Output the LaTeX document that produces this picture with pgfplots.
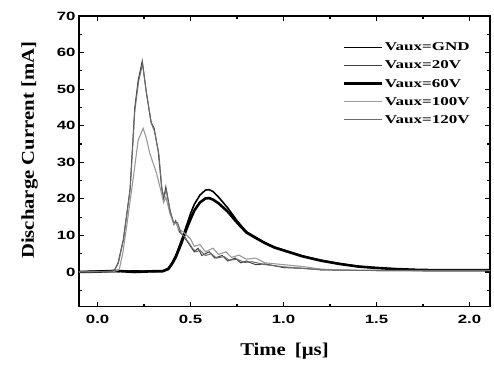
\documentclass[border=0pt]{standalone}
\usepackage{fontspec}
\setmainfont{Liberation Serif}
\newfontfamily\tickfont[FakeStretch=1.4]{Liberation Sans}
\newfontfamily\labfont[FakeStretch=1.15]{Liberation Serif}
\newfontfamily\legfont[FakeStretch=1.42]{Liberation Serif}
\usepackage{pgfplots}
\pgfplotsset{compat=1.18}
\definecolor{cdark}{gray}{0.25}
\definecolor{cmid}{gray}{0.42}
\definecolor{clight}{gray}{0.6}
\begin{document}
\begin{tikzpicture}
\path[use as bounding box] (-79pt,-58.3pt) rectangle (415pt,306.7pt);
\begin{axis}[
  scale only axis, width=411pt, height=290.7pt,
  xmin=-0.1, xmax=2.11, ymin=-9.5, ymax=70,
  xtick={0,0.5,1,1.5,2}, minor xtick={-0.25,0.25,0.75,1.25,1.75},
  ytick={0,10,20,30,40,50,60,70}, minor ytick={-5,5,15,25,35,45,55,65},
  tick align=inside, major tick length=5pt, minor tick length=3pt,
  every tick/.style={black, line width=1.2pt},
  axis line style={line width=1.5pt},
  /pgf/number format/assume math mode=true,
  xticklabel style={yshift=-5pt, /pgf/number format/.cd, fixed, fixed zerofill, precision=1},
  ticklabel style={font=\tickfont\bfseries\fontsize{12}{12}\selectfont},
  xlabel={Time\hspace{0.5em}[\textmu s]}, ylabel={Discharge Current [mA]},
  xlabel style={yshift=-12pt},
  ylabel style={yshift=12pt, xshift=11pt},
  label style={font=\labfont\bfseries\fontsize{18}{18}\selectfont},
  legend style={at={(0.64,0.915)}, anchor=north west, draw=none, fill=none,
    font=\legfont\bfseries\fontsize{12}{12}\selectfont, row sep=4.6pt, inner sep=0pt},
  legend cell align=left,
  legend image code/.code={\draw[#1] (0pt,0pt) -- (38pt,0pt);},
]
% GND
\addplot[black, line width=1.6pt] coordinates {
(-0.1,0) (0,0.2) (0.1,0.1) (0.2,0.3) (0.3,0.1) (0.35,0.3) (0.38,1) (0.4,2.5) (0.42,4.5) (0.45,8.5) (0.48,13) (0.5,16) (0.52,18.5) (0.55,21) (0.58,22.4) (0.6,22.5) (0.62,22) (0.65,20.5) (0.7,17.5) (0.75,14) (0.8,11) (0.85,9.5) (0.9,8) (0.95,6.8) (1.0,6) (1.1,4.4) (1.2,3.2) (1.3,2.3) (1.4,1.5) (1.5,1.1) (1.6,0.8) (1.7,0.6) (1.8,0.5) (2.0,0.5) (2.11,0.5)};
% 20V
\addplot[cdark, line width=1pt] coordinates {
(-0.1,0) (0,0.2) (0.05,0) (0.09,0.4) (0.11,2.5) (0.138,8.8) (0.174,22.4) (0.2,45) (0.218,52.4) (0.24,57.7) (0.26,50) (0.287,41) (0.304,39.3) (0.326,33) (0.344,23.3) (0.355,20) (0.367,23.3) (0.389,17) (0.41,13) (0.42,14) (0.44,11) (0.46,10) (0.48,8.5) (0.5,7) (0.52,5.5) (0.54,6.5) (0.56,4.5) (0.6,5.5) (0.63,3.8) (0.67,4.5) (0.7,3) (0.74,3.8) (0.77,2.5) (0.8,3) (0.85,2) (0.9,2.2) (1.0,1.2) (1.1,1) (1.2,0.6) (1.3,0.5) (1.5,0.4) (2.11,0.4)};
% 60V
\addplot[black, line width=2.6pt] coordinates {
(-0.1,0) (0,0.1) (0.1,0.3) (0.2,0) (0.3,0.2) (0.35,0.2) (0.38,0.8) (0.4,2.2) (0.42,4) (0.45,7.8) (0.48,12) (0.5,14.5) (0.52,16.8) (0.55,19) (0.58,20.1) (0.6,20.2) (0.62,19.8) (0.65,18.8) (0.7,16.5) (0.75,13.5) (0.8,10.8) (0.85,9.3) (0.9,7.9) (0.95,6.7) (1.0,5.9) (1.1,4.3) (1.2,3.1) (1.3,2.2) (1.4,1.5) (1.5,1.1) (1.6,0.8) (1.7,0.6) (1.8,0.5) (2.0,0.5) (2.11,0.5)};
% 100V
\addplot[clight, line width=1.1pt] coordinates {
(-0.1,0) (0,0.1) (0.08,0) (0.116,0.6) (0.135,5) (0.156,12.4) (0.19,25) (0.218,36) (0.245,39.3) (0.26,37) (0.281,32.4) (0.317,27) (0.344,21.5) (0.355,19) (0.367,20.5) (0.389,16) (0.41,13) (0.42,13.5) (0.44,11.5) (0.46,11) (0.5,9) (0.52,7) (0.55,7.5) (0.58,5.5) (0.62,6.5) (0.65,4.8) (0.69,5.5) (0.72,4) (0.76,4.6) (0.8,3.5) (0.85,3.8) (0.9,2.5) (1.0,2) (1.1,1.5) (1.2,0.8) (1.3,0.5) (1.5,0.4) (2.11,0.4)};
% 120V
\addplot[cmid, line width=1pt] coordinates {
(-0.1,0.1) (0,0) (0.05,0.2) (0.09,0.3) (0.112,2.5) (0.14,9) (0.176,23) (0.2,44) (0.22,52) (0.242,57) (0.262,49) (0.29,40.5) (0.306,38.5) (0.33,32) (0.346,22.5) (0.357,20.5) (0.369,22.5) (0.39,16.5) (0.41,13.5) (0.43,13.5) (0.45,10.5) (0.47,9.5) (0.49,8) (0.51,6.5) (0.53,5.5) (0.55,6) (0.58,4.5) (0.61,5) (0.64,3.8) (0.68,4.2) (0.71,3.2) (0.75,3.5) (0.79,2.6) (0.83,2.8) (0.9,2) (1.0,1.4) (1.1,1) (1.2,0.6) (1.3,0.5) (1.5,0.4) (2.11,0.4)};
\legend{Vaux=GND, Vaux=20V, Vaux=60V, Vaux=100V, Vaux=120V}
\end{axis}
\end{tikzpicture}
\end{document}
